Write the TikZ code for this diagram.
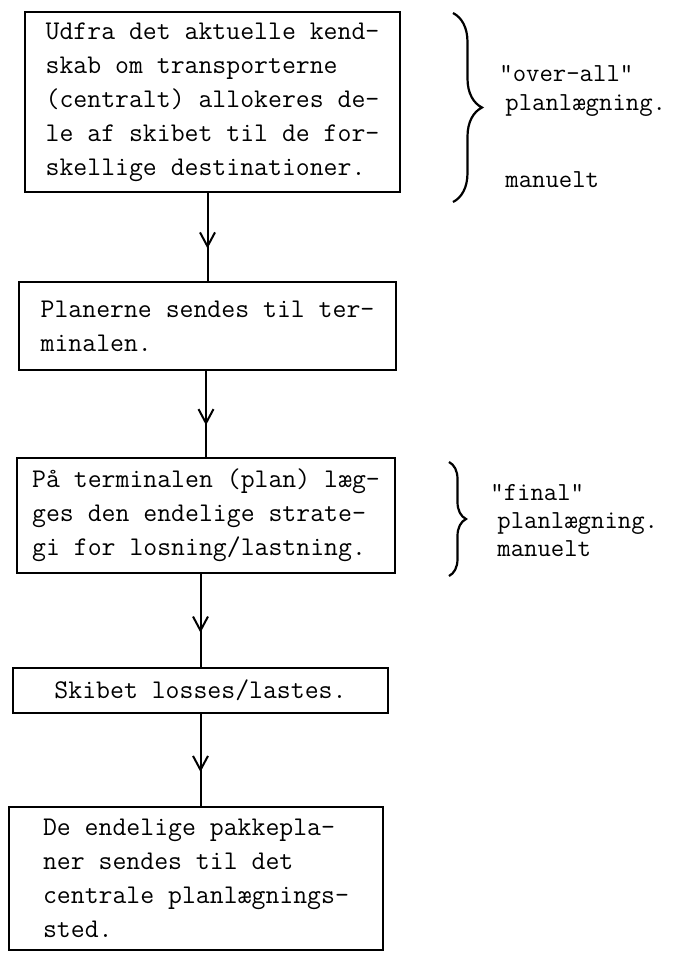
\documentclass[tikz,border=0pt]{standalone}
\usetikzlibrary{arrows.meta,decorations.markings,decorations.pathreplacing}

\tikzset{
  trin/.style={draw, line width=0.8pt, align=left, inner sep=0pt,
    font=\ttfamily\fontsize{13.5}{17}\selectfont},
  pil/.style={line width=1pt, postaction={decorate},
    decoration={markings, mark=at position 0.63 with
      {\arrow{Straight Barb[length=7pt,width=7.5pt]}}}},
  klamme/.style={decorate, line width=1.1pt,
    decoration={brace, amplitude=#1}},
  note/.style={anchor=base west, inner sep=0pt,
    font=\ttfamily\fontsize{13}{14}\selectfont}
}

\begin{document}
\begin{tikzpicture}[x=0.5pt, y=-0.5pt]
\useasboundingbox (0,0) rectangle (683,955);

% the five steps
\node[trin, minimum width=187.5pt, minimum height=90pt] (plan) at (212.5,102)
  {Udfra det aktuelle kend-\\skab om transporterne\\(centralt) allokeres de-\\le af skibet til de for-\\skellige destinationer.};
\node[trin, minimum width=188.5pt, minimum height=44pt] (sendes) at (207.5,326)
  {Planerne sendes til ter-\\minalen.};
\node[trin, minimum width=189pt, minimum height=57.5pt] (strategi) at (206,515.5)
  {På terminalen (plan) læg-\\ges den endelige strate-\\gi for losning/lastning.};
\node[trin, minimum width=187.5pt, minimum height=22.5pt] (losses) at (200.5,690.5)
  {Skibet losses/lastes.};
\node[trin, minimum width=187pt, minimum height=71.5pt] (pakkeplan) at (196,878.5)
  {De endelige pakkepla-\\ner sendes til det\\centrale planlægnings-\\sted.};

\draw[pil] (plan.south -| sendes.north) -- (sendes.north);
\draw[pil] (sendes.south -| strategi.north) -- (strategi.north);
\draw[pil] (strategi.south -| losses.north) -- (losses.north);
\draw[pil] (losses.south) -- (losses.south |- pakkeplan.north);

% braces with the remarks
\draw[klamme=14.5pt] (453,13) -- (453,202);
\node[note] (overall) at (499,81) {"over-all"};
\node[note] (planl1) at (505,110) {planlægning.};
\node[note] (man1) at (505,187) {manuelt};

\draw[klamme=8.5pt] (449,462) -- (449,576);
\node[note] (final) at (490,500) {"final"};
\node[note] (planl2) at (497,528) {planlægning.};
\node[note] (man2) at (497,556) {manuelt};
\end{tikzpicture}
\end{document}
